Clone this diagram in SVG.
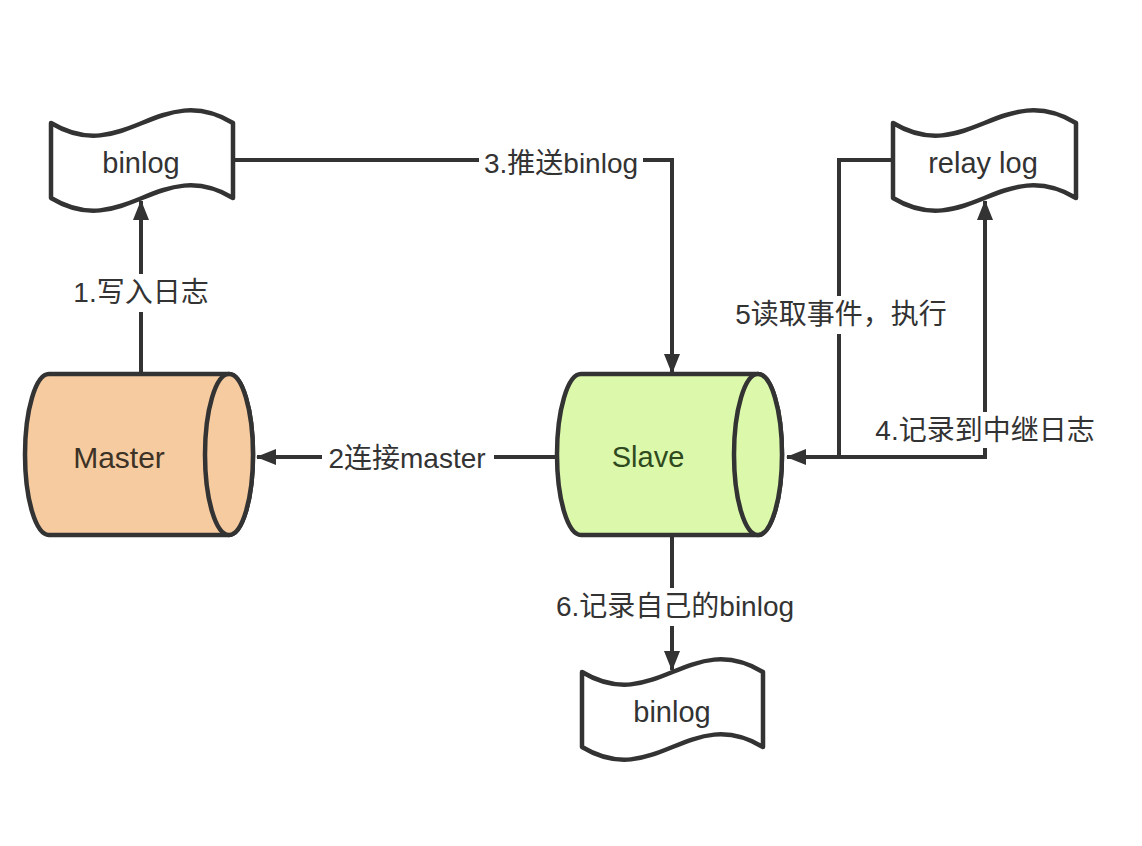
<svg xmlns="http://www.w3.org/2000/svg" width="1142" height="846" viewBox="0 0 1142 846">
<defs>
<marker id="arr" markerUnits="userSpaceOnUse" markerWidth="20" markerHeight="16" refX="19" refY="8" orient="auto">
<path d="M0,0 L20,8 L0,16 Z" fill="#333"/>
</marker>
<style>
.doc{fill:#fff;stroke:#333;stroke-width:4.5;stroke-linejoin:round}
.cyl{stroke:#333;stroke-width:4.5}
.ln{fill:none;stroke:#333;stroke-width:4}
.t{font-family:"Liberation Sans","Noto Sans CJK SC",sans-serif;font-size:28px;fill:#333;text-anchor:middle;dominant-baseline:central}
.n{font-size:29px}
.bg{fill:#fff}
</style>
</defs>
<rect width="1142" height="846" fill="#fff"/>
<g id="connectors">
<path class="ln" d="M233,160 H672 V373" marker-end="url(#arr)"/>
<path class="ln" d="M141,374 V201" marker-end="url(#arr)"/>
<path class="ln" d="M557,457 H257" marker-end="url(#arr)"/>
<path class="ln" d="M893,160 H839 V457 H787" marker-end="url(#arr)"/>
<path class="ln" d="M839,457 H985 V201" marker-end="url(#arr)"/>
<path class="ln" d="M672,535 V670" marker-end="url(#arr)"/>
<rect class="bg" x="479" y="144" width="164" height="36"/>
<text class="t" x="561" y="163">3.推送binlog</text>
<rect class="bg" x="70" y="274" width="142" height="38"/>
<text class="t" x="141" y="292">1.写入日志</text>
<rect class="bg" x="322" y="440" width="172" height="36"/>
<text class="t" x="407" y="458">2连接master</text>
<rect class="bg" x="726" y="296" width="232" height="38"/>
<text class="t" x="841" y="314">5读取事件，执行</text>
<rect class="bg" x="868" y="412" width="234" height="36"/>
<text class="t" x="985" y="430">4.记录到中继日志</text>
<rect class="bg" x="545" y="588" width="260" height="38"/>
<text class="t" x="675" y="606">6.记录自己的binlog</text>
</g>
<g id="binlog-master">
<path class="doc" d="M51,123 C124,167 160,79 233,123 V198 C160,154 124,242 51,198 Z"/>
<text class="t n" x="141" y="163">binlog</text>
</g>
<g id="relay-log">
<path class="doc" d="M893,123 C966,167 1003,79 1076,123 V198 C1003,154 966,242 893,198 Z"/>
<text class="t n" x="983" y="163">relay log</text>
</g>
<g id="binlog-slave">
<path class="doc" d="M582,672 C655,716 690,628 763,672 V747 C690,703 655,791 582,747 Z"/>
<text class="t n" x="672" y="712">binlog</text>
</g>
<g id="master">
<path class="cyl" fill="#F6CBA0" d="M49,374 H229 A24,80.5 0 0 1 229,535 H49 A24,80.5 0 0 1 49,374 Z"/>
<ellipse class="cyl" fill="#F6CBA0" cx="229" cy="454.5" rx="24" ry="80.5"/>
<text class="t" x="119" y="457" style="fill:#3d3226;font-size:30px">Master</text>
</g>
<g id="slave">
<path class="cyl" fill="#DCF8AB" d="M581,374 H758 A24,80.5 0 0 1 758,535 H581 A24,80.5 0 0 1 581,374 Z"/>
<ellipse class="cyl" fill="#DCF8AB" cx="758" cy="454.5" rx="24" ry="80.5"/>
<text class="t" x="648" y="457" style="fill:#2f4a1e;font-size:29px">Slave</text>
</g>
</svg>
